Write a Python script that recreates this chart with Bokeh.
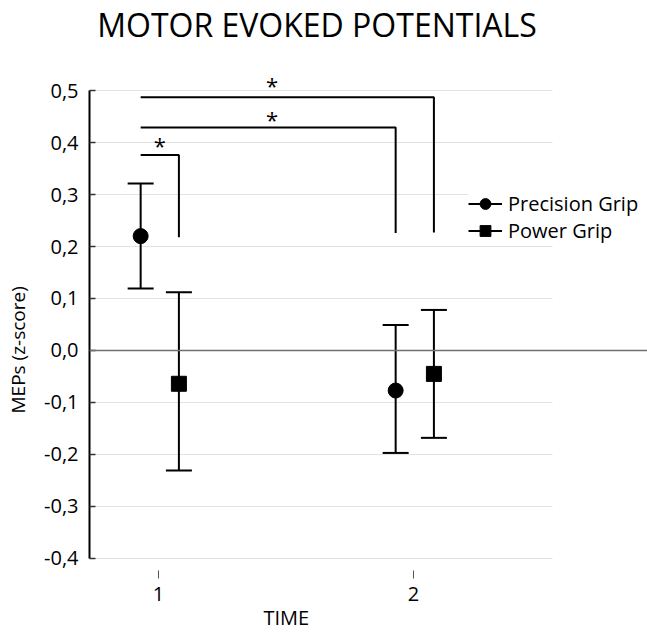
import math
from bokeh.plotting import figure
from bokeh.models import (FixedTicker, Whisker, TeeHead, ColumnDataSource, Span,
                          Label, Legend, LegendItem, Range1d, Title)
from bokeh.core.properties import value
from bokeh.embed import file_html
from bokeh.resources import INLINE

# ---------------- data ----------------
time_ticks = [1, 2]
time_labels = ["1", "2"]

precision_x = [0.93, 1.93]
precision_mean = [0.220, -0.077]
precision_upper = [0.321, 0.049]
precision_lower = [0.119, -0.197]

power_x = [1.08, 2.08]
power_mean = [-0.064, -0.045]
power_upper = [0.112, 0.078]
power_lower = [-0.231, -0.168]

y_ticks = [-0.4, -0.3, -0.2, -0.1, 0.0, 0.1, 0.2, 0.3, 0.4, 0.5]
y_tick_labels = ["-0,4", "-0,3", "-0,2", "-0,1", "0,0", "0,1", "0,2", "0,3", "0,4", "0,5"]

bracket_x0 = [0.93, 0.93, 0.93]
bracket_x1 = [1.08, 1.93, 2.08]
bracket_top = [0.376, 0.429, 0.487]
bracket_bottom = [0.218, 0.226, 0.227]

star_x = [1.005, 1.445, 1.445]
star_y = [0.400, 0.449, 0.514]
star_text = ["*", "*", "*"]

FONT = "Open Sans"
NAN = float("nan")

# ---------------- figure ----------------
p = figure(width=647, height=636, output_backend="svg", toolbar_location=None, title=None,
           x_range=Range1d(0.7294, 2.9176), y_range=Range1d(-0.4231, 0.6731),
           min_border_left=89, min_border_right=0, min_border_top=0, min_border_bottom=66)
p.outline_line_color = None
p.grid.visible = False

# gridlines (manual, to stop short of the right edge)
grid_end = 2.545
p.segment(x0=[p.x_range.start] * len(y_ticks), x1=[grid_end] * len(y_ticks),
          y0=y_ticks, y1=y_ticks, line_color="#e3e3e3", line_width=1, level="underlay")
p.add_layout(Span(location=0, dimension="width", line_color="#707070", line_width=1.5))

# axes
xa = p.xaxis[0]
xa.ticker = FixedTicker(ticks=time_ticks)
xa.major_label_overrides = {t: l for t, l in zip(time_ticks, time_labels)}
xa.axis_line_color = None
xa.major_tick_in = 0
xa.major_tick_out = 8
xa.major_tick_line_color = "#555555"
xa.major_tick_line_width = 1
xa.minor_tick_line_color = None
xa.major_label_standoff = 8
xa.major_label_text_font = FONT
xa.major_label_text_font_size = "20px"
xa.major_label_text_color = "black"

ya = p.yaxis[0]
ya.ticker = FixedTicker(ticks=y_ticks)
ya.major_label_overrides = {t: l for t, l in zip(y_ticks, y_tick_labels)}
ya.bounds = (-0.4, 0.5)
ya.axis_line_color = "black"
ya.axis_line_width = 2
ya.major_tick_in = 6
ya.major_tick_out = 0
ya.major_tick_line_color = "#333333"
ya.major_tick_line_width = 1.5
ya.minor_tick_line_color = None
ya.major_label_standoff = 11
ya.major_label_text_font = FONT
ya.major_label_text_font_size = "20px"
ya.major_label_text_color = "black"
# blank spacer label (pushes the y title to the left edge)
ya.axis_label = " "
ya.axis_label_standoff = 3
ya.axis_label_text_font_size = "1px"

# axis titles as side titles
p.add_layout(Title(text="MEPs (z-score)", align="left", offset=157, vertical_align="top",
                   standoff=2, text_font=FONT, text_font_size="19px",
                   text_font_style="normal", text_color="black"), "left")
p.add_layout(Title(text="TIME", align="left", offset=174, vertical_align="top",
                   standoff=0, text_font=FONT, text_font_size="20px",
                   text_font_style="normal", text_color="black"), "below")

# significance brackets
bxs = [[a, b, b] for a, b in zip(bracket_x0, bracket_x1)]
bys = [[t, t, bt] for t, bt in zip(bracket_top, bracket_bottom)]
p.multi_line(xs=bxs, ys=bys, line_color="black", line_width=2)
p.text(x=star_x, y=star_y, text=star_text, text_align="center", text_baseline="middle",
       y_offset=2, text_font=value(FONT), text_font_size="22px", text_color="black")

# error bars
for xs, up, lo in [(precision_x, precision_upper, precision_lower),
                   (power_x, power_upper, power_lower)]:
    src = ColumnDataSource(dict(base=xs, upper=up, lower=lo))
    w = Whisker(source=src, base="base", upper="upper", lower="lower",
                line_color="black", line_width=2, level="underlay",
                upper_head=TeeHead(size=26, line_width=2, line_color="black"),
                lower_head=TeeHead(size=26, line_width=2, line_color="black"))
    p.add_layout(w)

r_prec = p.scatter(x=precision_x, y=precision_mean, marker="circle", size=15,
                   fill_color="black", line_color="black")
r_pow = p.scatter(x=power_x, y=power_mean, marker="square", size=15,
                  fill_color="black", line_color="black")

# legend
l_prec = p.line(x=[NAN, NAN], y=[NAN, NAN], line_color="black", line_width=2)
l_pow = p.line(x=[NAN, NAN], y=[NAN, NAN], line_color="black", line_width=2)
legend = Legend(items=[LegendItem(label="Precision Grip", renderers=[l_prec, r_prec]),
                       LegendItem(label="Power Grip", renderers=[l_pow, r_pow])],
                location=(379, 326), padding=0, margin=0, spacing=0,
                glyph_width=34, glyph_height=27, label_height=27, label_standoff=6,
                label_text_font=FONT, label_text_font_size="20px", label_text_color="black",
                border_line_color=None, background_fill_color="white", background_fill_alpha=1)
p.add_layout(legend)

# main title (inside the frame area, which reaches the top of the canvas)
p.add_layout(Label(x=227.5, y=546, x_units="screen", y_units="screen",
                   text="MOTOR EVOKED POTENTIALS", text_align="center",
                   text_baseline="alphabetic", text_font=FONT, text_font_size="32px",
                   text_color="black"))

open("out.html", "w").write(file_html(p, INLINE))
